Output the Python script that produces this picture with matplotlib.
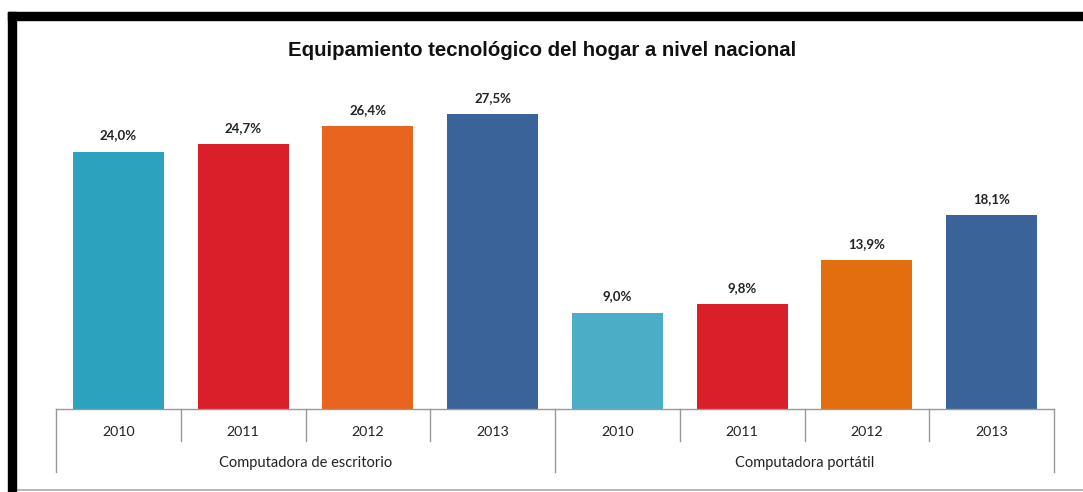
import matplotlib
matplotlib.use("Agg")
import matplotlib.pyplot as plt
from matplotlib.lines import Line2D
from matplotlib.patches import Rectangle

groups = ["Computadora de escritorio", "Computadora portátil"]
years = ["2010", "2011", "2012", "2013"]
values = [24.0, 24.7, 26.4, 27.5, 9.0, 9.8, 13.9, 18.1]
colors = ["#2CA2BF", "#DA1F2B", "#E9641F", "#3A6399",
          "#4BADC6", "#DA1F2B", "#E36E0D", "#3A6399"]

W, H = 1083, 492
fig = plt.figure(figsize=(W / 100, H / 100), dpi=100)

def fx(px): return px / W
def fy(py): return 1 - py / H

# frame of the screenshot
fig.patches.append(Rectangle((fx(8), fy(20)), fx(W - 8), 8 / H, transform=fig.transFigure,
                             color="black", zorder=5))
fig.patches.append(Rectangle((fx(8), 0), 8 / W, fy(12), transform=fig.transFigure,
                             color="black", zorder=5))
fig.lines.append(Line2D([fx(16), 1], [fy(490), fy(490)], transform=fig.transFigure,
                        color="#AAAAAA", lw=1.2))

# axes: left 56px, right 1054px, baseline 409px, 10.72 px per %
ymax = 30
top = 409 - ymax * 10.72
ax = fig.add_axes([fx(56), fy(409), fx(1054 - 56), (409 - top) / H])
x = list(range(len(values)))
ax.bar(x, values, width=0.73, color=colors, zorder=2)
for xi, v in zip(x, values):
    ax.text(xi, v + 0.95, f"{v:.1f}%".replace(".", ","), ha="center", va="bottom",
            fontsize=9.5, fontweight="bold", family="Lato", color="#222222")
ax.set_xlim(-0.5, 7.5)
ax.set_ylim(0, ymax)
ax.axis("off")

# category axis drawn by hand
line_kw = dict(transform=fig.transFigure, color="#999999", lw=1.0)
fig.lines.append(Line2D([fx(56), fx(1054)], [fy(409), fy(409)], **line_kw))
xs = [56 + i * (1054 - 56) / 8 for i in range(9)]
for i, xp in enumerate(xs):
    bottom = 472 if i in (0, 4, 8) else 441
    fig.lines.append(Line2D([fx(xp), fx(xp)], [fy(409), fy(bottom)], **line_kw))
for i in range(8):
    fig.text(fx((xs[i] + xs[i + 1]) / 2), fy(432), years[i % 4], ha="center", va="center",
             fontsize=10.2, family="Lato", color="#222222")
for g, name in enumerate(groups):
    fig.text(fx((xs[4 * g] + xs[4 * g + 4]) / 2), fy(463), name, ha="center", va="center",
             fontsize=10.5, family="Lato", color="#222222")

fig.text(fx(542), fy(50), "Equipamiento tecnológico del hogar a nivel nacional",
         ha="center", va="center", fontsize=14.7, fontweight="bold",
         family="Liberation Sans", color="#111111")

fig.savefig("out.png", dpi=100)
